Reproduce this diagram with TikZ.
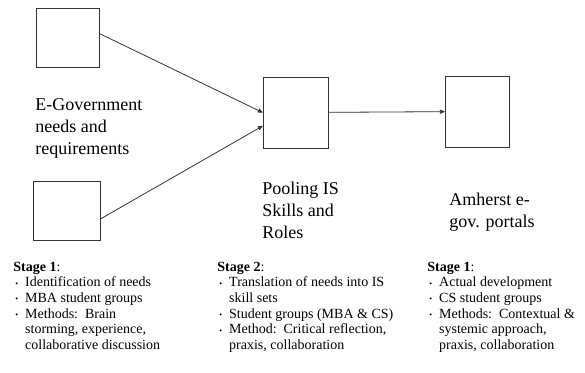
\documentclass[tikz,border=0pt]{standalone}
\usepackage{fontspec}
\setmainfont{Liberation Serif}
\usepackage{tikz}
\usetikzlibrary{arrows}

\newcommand{\stagedot}{\raisebox{0.1ex}{\footnotesize\textbullet}}

\begin{document}
\begin{tikzpicture}[x=1pt,y=-1pt,>=stealth',line width=0.8pt,
    stage box/.style={draw=black!80,inner sep=0pt},
    big label/.style={anchor=west,align=left,inner sep=0pt,font=\fontsize{18}{22}\selectfont},
    stage list/.style={anchor=north west,align=left,inner sep=0pt,font=\fontsize{14}{15.6}\selectfont}]
    \useasboundingbox (0,0) rectangle (585,372);

    \node[stage box,minimum width=63pt,minimum height=59pt] (need1) at (67.5,37.5) {};
    \node[stage box,minimum width=67pt,minimum height=59pt] (need2) at (66.5,210.5) {};
    \node[stage box,minimum width=65pt,minimum height=71pt] (pool) at (295.5,112.5) {};
    \node[stage box,minimum width=64pt,minimum height=71pt] (portal) at (477,111.5) {};

    \node[big label] (needs) at (35,128) {E-Government\\needs and\\requirements};
    \node[big label] (pooling) at (262,210) {Pooling IS\\Skills and\\Roles};
    \node[big label] (amherst) at (449,212) {Amherst e-\\gov. portals};

    \node[stage list] (stage1) at (13,260) {\begin{tabular}{@{\hspace{2pt}}l@{\hspace{7pt}}l@{}}
      \multicolumn{2}{@{}l@{}}{\textbf{Stage 1}:}\\
      \stagedot & Identification of needs\\
      \stagedot & MBA student groups\\
      \stagedot & Methods:\ \ Brain\\
                & storming, experience,\\
                & collaborative discussion
    \end{tabular}};
    \node[stage list] (stage2) at (217,260) {\begin{tabular}{@{\hspace{2pt}}l@{\hspace{7pt}}l@{}}
      \multicolumn{2}{@{}l@{}}{\textbf{Stage 2}:}\\
      \stagedot & Translation of needs into IS\\
                & skill sets\\
      \stagedot & Student groups (MBA \& CS)\\
      \stagedot & Method:\ \ Critical reflection,\\
                & praxis, collaboration
    \end{tabular}};
    \node[stage list] (stage3) at (427,260) {\begin{tabular}{@{\hspace{2pt}}l@{\hspace{7pt}}l@{}}
      \multicolumn{2}{@{}l@{}}{\textbf{Stage 1}:}\\
      \stagedot & Actual development\\
      \stagedot & CS student groups\\
      \stagedot & Methods:\ \ Contextual \&\\
                & systemic approach,\\
                & praxis, collaboration
    \end{tabular}};

    \draw[->,black!80] ([yshift=4pt]need1.east) -- (pool.west);
    \draw[->,black!80] ([yshift=-8.5pt]need2.east) -- ([yshift=-13.5pt]pool.west);
    \draw[->,black!80] (pool) -- (portal);
\end{tikzpicture}
\end{document}
